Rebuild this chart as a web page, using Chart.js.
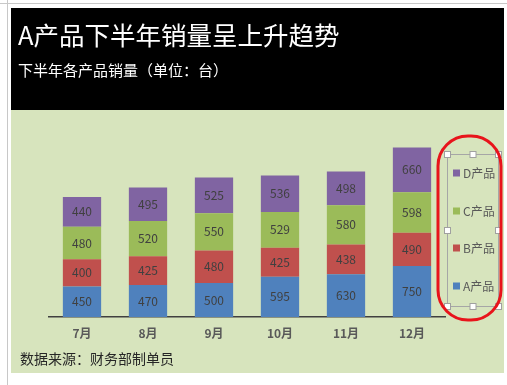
<!DOCTYPE html>
<html><head><meta charset="utf-8">
<script src="https://cdn.jsdelivr.net/npm/chart.js@4/dist/chart.umd.min.js"></script>
<style>html,body{margin:0;padding:0;background:#fff}#wrap{width:507px;height:385px}</style>
</head><body><div id="wrap"><canvas id="c" width="507" height="385"></canvas></div>
<script>
const categories = ['7月','8月','9月','10月','11月','12月'];
const seriesNames = ['A产品','B产品','C产品','D产品'];
const productA = [450,470,500,595,630,750];
const productB = [400,425,480,425,438,490];
const productC = [480,520,550,529,580,598];
const productD = [440,495,525,536,498,660];
const colors = ['#4f81bd','#c0504d','#9bbb59','#8064a2'];
const titleText = 'A产品下半年销量呈上升趋势';
const subtitleText = '下半年各产品销量（单位：台）';
const sourceText = '数据来源：财务部制单员';
const FONT = '"Noto Sans CJK SC","Noto Sans",sans-serif';

const bgPlugin = {
  id:'bg',
  beforeDraw(chart){
    const c = chart.ctx;
    c.save();
    c.fillStyle='#fff'; c.fillRect(0,0,507,385);
    c.strokeStyle='#c8c8c8'; c.lineWidth=1;
    c.beginPath(); c.moveTo(7.5,0); c.lineTo(7.5,385); c.stroke();
    c.beginPath(); c.moveTo(0,3.5); c.lineTo(507,3.5); c.stroke();
    c.fillStyle='#d7e4bd'; c.fillRect(11,110,493,263);
    c.fillStyle='#000'; c.fillRect(11,8,493,102);
    c.fillStyle='#fff'; c.textBaseline='middle'; c.textAlign='left';
    c.font='25.5px '+FONT; c.fillText(titleText,18,35);
    c.font='15px '+FONT; c.fillText(subtitleText,18,70);
    c.fillStyle='#262626'; c.font='14px '+FONT; c.fillText(sourceText,20,359);
    c.restore();
  },
  afterDatasetsDraw(chart){
    const c = chart.ctx;
    c.save();
    c.font='12px '+FONT; c.fillStyle='#404040'; c.textAlign='center'; c.textBaseline='middle';
    chart.data.datasets.forEach((ds,di)=>{
      chart.getDatasetMeta(di).data.forEach((bar,i)=>{
        c.fillText(String(ds.data[i]), bar.x, (bar.y+bar.base)/2);
      });
    });
    // legend
    const ys=[286,248,211,173];
    c.textAlign='left';
    seriesNames.forEach((n,i)=>{
      c.fillStyle=colors[i]; c.fillRect(453,ys[i]-3.5,7,7);
      c.fillStyle='#595959'; c.font='12px '+FONT; c.fillText(n,463,ys[i]);
    });
    c.strokeStyle='#a6a6a6'; c.lineWidth=1;
    c.strokeRect(447.5,154.5,51,152);
    const hx=[447.5,473,498.5], hy=[154.5,230.5,306.5];
    hx.forEach((x,a)=>hy.forEach((y,b)=>{
      if(a===1&&b===1) return;
      c.fillStyle='#fff'; c.fillRect(x-3,y-3,6,6);
      c.strokeStyle='#a0a0a0'; c.strokeRect(x-3,y-3,6,6);
    }));
    c.strokeStyle='#e8141b'; c.lineWidth=3;
    c.beginPath(); c.roundRect(438,136,63,184,30); c.stroke();
    c.restore();
  }
};

new Chart(document.getElementById('c'),{
  type:'bar',
  data:{
    labels:categories,
    datasets:[productA,productB,productC,productD].map((d,i)=>({
      label:seriesNames[i], data:d, backgroundColor:colors[i],
      borderWidth:0, categoryPercentage:1, barPercentage:0.58
    }))
  },
  options:{
    responsive:false, animation:false,
    layout:{padding:{left:49,right:62,top:127,bottom:38}},
    plugins:{legend:{display:false},title:{display:false},tooltip:{enabled:false}},
    scales:{
      x:{stacked:true, grid:{display:false,drawTicks:false},
         border:{display:true,color:'#404040',width:1.5},
         ticks:{color:'#595959',padding:9,font:{size:12,weight:'bold',family:FONT}},
         afterFit(s){s.height=30;}},
      y:{stacked:true, display:false, min:0, max:2800}
    }
  },
  plugins:[bgPlugin]
});
</script></body></html>
